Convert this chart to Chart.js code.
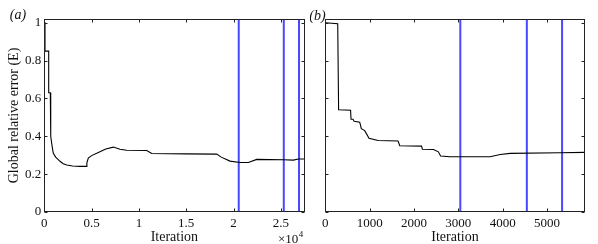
<!DOCTYPE html>
<html>
<head>
<meta charset="utf-8">
<script src="https://cdn.jsdelivr.net/npm/chart.js@4"></script>
<style>
html,body{margin:0;padding:0;background:#fff;width:598px;height:244px;overflow:hidden;}
.p{position:absolute;top:0;height:244px;}
#wa{left:0;width:310px;}
#wb{left:310px;width:288px;}
</style>
</head>
<body>
<div class="p" id="wa"><canvas id="ca"></canvas></div>
<div class="p" id="wb"><canvas id="cb"></canvas></div>
<script>
// ---- Panel (a) data ----
const iterA = [0, 74, 74, 465, 465, 635, 660, 700, 760, 850, 951, 1200, 1660, 2000, 2370, 3000, 3774, 4408, 4500, 4651, 5000, 5539, 6500, 7294, 8000, 8710, 10825, 11353, 15000, 18224, 18700, 19630, 20687, 21564, 22452, 25264, 26321, 26850, 27500];
const errA  = [1.0, 1.0, 0.85, 0.85, 0.63, 0.63, 0.45, 0.40, 0.37, 0.34, 0.31, 0.29, 0.268, 0.255, 0.248, 0.243, 0.241, 0.241, 0.26, 0.285, 0.298, 0.310, 0.333, 0.343, 0.332, 0.326, 0.325, 0.309, 0.307, 0.306, 0.29, 0.269, 0.262, 0.262, 0.278, 0.276, 0.274, 0.28, 0.28];
const markersA = [20550, 25310, 26920];
const xTicksA = [0, 5000, 10000, 15000, 20000, 25000];
const xTickLabelsA = ["0", "0.5", "1", "1.5", "2", "2.5"];
const yTicks = [0, 0.2, 0.4, 0.6, 0.8, 1];
const yTickLabels = ["0", "0.2", "0.4", "0.6", "0.8", "1"];

// ---- Panel (b) data ----
const iterB = [0, 280, 300, 570, 580, 625, 650, 776, 813, 889, 986, 1190, 1641, 1679, 2170, 2190, 2440, 2550, 2600, 2815, 3718, 3944, 4169, 5298, 5850];
const errB  = [1.0, 0.995, 0.54, 0.538, 0.49, 0.49, 0.48, 0.475, 0.44, 0.43, 0.39, 0.378, 0.375, 0.35, 0.348, 0.332, 0.33, 0.318, 0.296, 0.292, 0.292, 0.304, 0.31, 0.313, 0.315];
const markersB = [3045, 4545, 5340];
const xTicksB = [0, 1000, 2000, 3000, 4000, 5000];
const xTickLabelsB = ["0", "1000", "2000", "3000", "4000", "5000"];

const Y_MIN = 0, Y_MAX = 1.02;
const FONT = "'Liberation Serif', 'DejaVu Serif', serif";
const BLUE = 'rgb(72,72,255)';

function lineData(xs, ys){ return xs.map((x,i)=>({x:x, y:ys[i]})); }
function markerSets(ms){
  return ms.map(m => ({
    data: [{x:m, y:Y_MIN}, {x:m, y:Y_MAX}],
    borderColor: BLUE, borderWidth: 2, pointRadius: 0, showLine: true, fill: false
  }));
}

const boxPlugin = {
  id: 'boxTicks',
  afterDraw(chart){
    const ctx = chart.ctx, a = chart.chartArea;
    const xs = chart.scales.x, ys = chart.scales.y;
    const L = Math.round(a.left)+0.5, R = Math.round(a.right)-0.5, T = Math.round(a.top)+0.5, B = Math.round(a.bottom)-0.5;
    ctx.save();
    ctx.strokeStyle = '#222'; ctx.lineWidth = 1;
    ctx.strokeRect(L, T, R-L, B-T);
    const tl = 3;
    ctx.beginPath();
    xs.ticks.forEach(t => {
      const px = Math.round(xs.getPixelForValue(t.value))+0.5;
      ctx.moveTo(px, B); ctx.lineTo(px, B-tl);
      ctx.moveTo(px, T); ctx.lineTo(px, T+tl);
    });
    ys.ticks.forEach(t => {
      const py = Math.round(ys.getPixelForValue(t.value))+0.5;
      ctx.moveTo(L, py); ctx.lineTo(L+tl, py);
      ctx.moveTo(R, py); ctx.lineTo(R-tl, py);
    });
    ctx.stroke();
    const o = chart.options.plugins.extraText || {};
    ctx.fillStyle = '#111';
    if (o.label){
      ctx.font = 'italic 14px ' + FONT;
      ctx.textAlign = 'center'; ctx.textBaseline = 'middle';
      ctx.fillText(o.label, o.lx, o.ly);
    }
    if (o.exp){
      ctx.font = '13px ' + FONT;
      ctx.textAlign = 'left'; ctx.textBaseline = 'middle';
      ctx.fillText('\u00d710', o.ex, o.ey);
      const w = ctx.measureText('\u00d710').width;
      ctx.font = '9px ' + FONT;
      ctx.fillText('4', o.ex + w + 0.5, o.ey - 5);
    }
    ctx.restore();
  }
};

function makeChart(id, xs, ys, markers, xmax, xTicks, xLabels, isA){
  return new Chart(document.getElementById(id), {
    type: 'scatter',
    data: {
      datasets: [{
        data: lineData(xs, ys),
        borderColor: '#000', borderWidth: 1.1, pointRadius: 0, showLine: true, fill: false, tension: 0
      }].concat(markerSets(markers))
    },
    options: {
      responsive: true, maintainAspectRatio: false, animation: false,
      layout: { padding: isA ? {left:0, right:5.5, top:19, bottom:0} : {left:0, right:13.3, top:19, bottom:0} },
      plugins: {
        legend: {display:false}, tooltip: {enabled:false},
        extraText: isA ? {label:'(a)', lx:18, ly:15, exp:true, ex:278, ey:240} : {label:'(b)', lx:7.5, ly:16}
      },
      scales: {
        x: {
          type: 'linear', min: 0, max: xmax,
          grid: {display:false, drawTicks:false, tickLength:0}, border: {display:false},
          afterBuildTicks: s => { s.ticks = xTicks.map(v => ({value:v})); },
          afterFit: s => { s.height = 32; },
          ticks: { color:'#111', font:{family:FONT, size:13}, padding:3.5, maxRotation:0, autoSkip:false,
                   callback: (v) => { const i = xTicks.indexOf(v); return i >= 0 ? xLabels[i] : ''; } },
          title: { display:true, text:'Iteration', color:'#111', font:{family:FONT, size:14, lineHeight:1}, padding:{top:0,bottom:0} }
        },
        y: {
          type: 'linear', min: Y_MIN, max: Y_MAX, display: isA,
          grid: {display:false, drawTicks:false, tickLength:0}, border: {display:false},
          afterBuildTicks: s => { s.ticks = yTicks.map(v => ({value:v})); },
          afterFit: s => { s.width = isA ? 44.3 : 15.3; },
          ticks: { color:'#111', font:{family:FONT, size:13}, padding:3, autoSkip:false,
                   callback: (v) => { const i = yTicks.indexOf(v); return i >= 0 ? yTickLabels[i] : ''; } },
          title: { display:true, text:'Global relative error (E)', color:'#111', font:{family:FONT, size:14, lineHeight:1}, padding:{top:7,bottom:0} }
        }
      }
    },
    plugins: [boxPlugin]
  });
}

makeChart('ca', iterA, errA, markersA, 27500, xTicksA, xTickLabelsA, true);
makeChart('cb', iterB, errB, markersB, 5850, xTicksB, xTickLabelsB, false);
</script>
</body>
</html>
